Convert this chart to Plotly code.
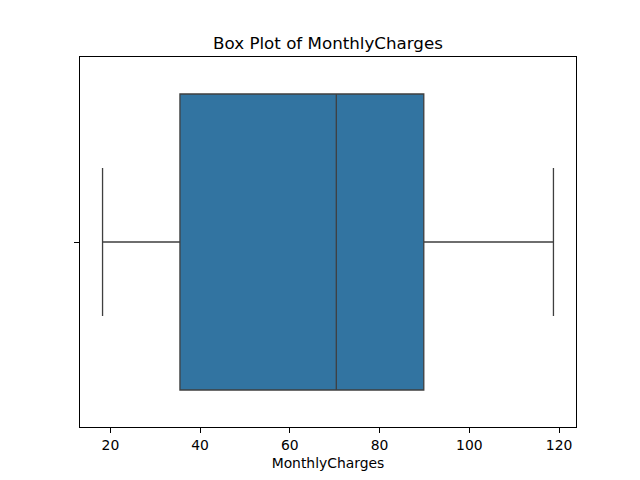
import plotly.graph_objects as go

# Data (summary stats)
category = [0]
q1 = [35.5]
median = [70.35]
q3 = [89.85]
lower = [18.25]
upper = [118.75]
x_ticks = [20, 40, 60, 80, 100, 120]

fig = go.Figure()
fig.add_trace(go.Box(
    y=category, q1=q1, median=median, q3=q3,
    lowerfence=lower, upperfence=upper,
    orientation='h', width=0.8, whiskerwidth=0.5,
    fillcolor='#3274a1', line=dict(color='#3f3f3f', width=1.3),
    boxpoints=False, showlegend=False, hoverinfo='skip'
))

fig.update_layout(
    width=640, height=480,
    margin=dict(l=72, r=72, t=49, b=61),
    paper_bgcolor='white', plot_bgcolor='white',
    font=dict(family='DejaVu Sans', size=13.9, color='black'),
    title=dict(text='Box Plot of MonthlyCharges', x=0.5, xref='paper',
               y=1 - 35/480, yref='container', yanchor='middle',
               font=dict(size=16.7, color='black')),
    xaxis=dict(range=[13.225, 123.775], tickvals=x_ticks, ticks='outside',
               ticklen=5, tickwidth=1, tickcolor='black', showgrid=False,
               zeroline=False, showline=True, linecolor='black', linewidth=1,
               mirror=True,
               title=dict(text='MonthlyCharges', standoff=6,
                          font=dict(size=13.9))),
    yaxis=dict(range=[0.5, -0.5], tickvals=[0], ticktext=[''], ticks='outside',
               ticklen=5, tickwidth=1, tickcolor='black', showgrid=False,
               zeroline=False, showline=True, linecolor='black', linewidth=1,
               mirror=True),
)

fig.write_html('out.html')
